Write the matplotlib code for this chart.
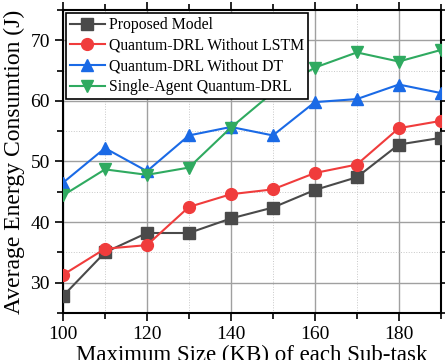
import matplotlib
matplotlib.use('Agg')
import matplotlib.pyplot as plt
from matplotlib.ticker import MultipleLocator

sizes = [100, 110, 120, 130, 140, 150, 160, 170, 180, 190]
proposed = [27.8, 35.0, 38.2, 38.2, 40.6, 42.4, 45.3, 47.4, 52.8, 53.9]
no_lstm = [31.3, 35.6, 36.2, 42.5, 44.6, 45.4, 48.1, 49.5, 55.5, 56.7]
no_dt = [46.5, 52.2, 48.4, 54.3, 55.7, 54.3, 59.8, 60.3, 62.7, 61.3]
single_agent = [44.4, 48.7, 47.8, 49.0, 55.6, 61.4, 65.5, 68.0, 66.5, 68.4]

plt.rcParams['font.family'] = ['Liberation Serif', 'DejaVu Serif']

fig = plt.figure(figsize=(4.45, 3.6), dpi=100)
ax = fig.add_axes([0.1416, 0.1306, 0.849, 0.8416])

ax.plot(sizes, proposed, '-s', color='#4a4a4a', ms=8, lw=1.5, label='Proposed Model', zorder=3)
ax.plot(sizes, no_lstm, '-o', color='#f03c3c', ms=8.5, lw=1.5, label='Quantum-DRL Without LSTM', zorder=3)
ax.plot(sizes, no_dt, '-^', color='#1a6ae6', ms=9, lw=1.5, label='Quantum-DRL Without DT', zorder=3)
ax.plot(sizes, single_agent, '-v', color='#2faa60', ms=9, lw=1.5, label='Single-Agent Quantum-DRL', zorder=3)

ax.set_xlim(100, 190)
ax.set_ylim(25, 75)
ax.xaxis.set_major_locator(MultipleLocator(20))
ax.xaxis.set_minor_locator(MultipleLocator(10))
ax.yaxis.set_major_locator(MultipleLocator(10))
ax.yaxis.set_minor_locator(MultipleLocator(5))
ax.grid(which='major', color='#a0a0a0', lw=1.0)
ax.grid(which='minor', color='#c8c8c8', lw=0.7, ls=':')
ax.set_axisbelow(True)

ax.tick_params(which='both', direction='out', top=True, right=True, labelsize=14, width=1.2)
ax.tick_params(which='major', length=6)
ax.tick_params(which='minor', length=4)
for s in ax.spines.values():
    s.set_linewidth(1.5)

ax.set_xlabel('Maximum Size (KB) of each Sub-task', fontsize=16.5, labelpad=1)
ax.set_ylabel('Average Energy Consumtion (J)', fontsize=17, labelpad=4)

ax.legend(loc='upper left', fontsize=11.3, frameon=True, fancybox=False, edgecolor='black',
          framealpha=1, borderpad=0.25, labelspacing=0.3, handlelength=2.2, handletextpad=0.3,
          borderaxespad=0.2).get_frame().set_linewidth(1.2)

plt.savefig('out.png', dpi=100)
